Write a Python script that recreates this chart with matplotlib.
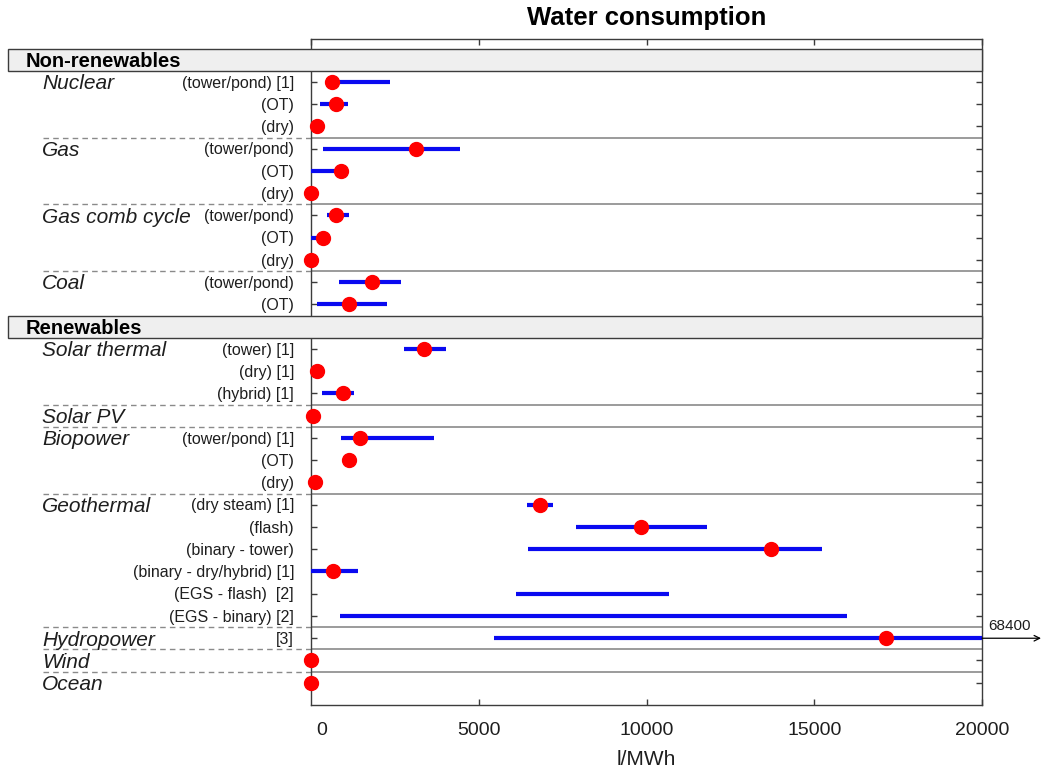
import numpy as np
import matplotlib.pyplot as plt
import matplotlib.transforms as mtransforms
from matplotlib.patches import Rectangle

plt.rcParams["font.family"] = ["Liberation Sans", "DejaVu Sans"]

# Water consumption ranges (l/MWh): low, high and median per technology
sections = ["Non-renewables", "Renewables"]
groups = [
    ("Nuclear", 3, 0), ("Gas", 3, 0), ("Gas comb cycle", 3, 0), ("Coal", 2, 0),
    ("Solar thermal", 3, 1), ("Solar PV", 1, 1), ("Biopower", 3, 1),
    ("Geothermal", 6, 1), ("Hydropower", 1, 1), ("Wind", 1, 1), ("Ocean", 1, 1),
]
sub_labels = [
    "(tower/pond) [1]", "(OT)", "(dry)",
    "(tower/pond)", "(OT)", "(dry)",
    "(tower/pond)", "(OT)", "(dry)",
    "(tower/pond)", "(OT)",
    "(tower) [1]", "(dry) [1]", "(hybrid) [1]",
    "",
    "(tower/pond) [1]", "(OT)", "(dry)",
    "(dry steam) [1]", "(flash)", "(binary - tower)",
    "(binary - dry/hybrid) [1]", "(EGS - flash)  [2]", "(EGS - binary) [2]",
    "[3]", "", "",
]
nan = np.nan
low = [470, 270, nan, 350, 0, nan, 490, 0, nan, 840, 170,
       2765, nan, 340, nan, 890, nan, nan,
       6430, 7885, 6480, 0, 6100, 870, 5440, nan, nan]
high = [2345, 1100, nan, 4440, 900, nan, 1120, 350, nan, 2685, 2265,
        4010, nan, 1290, nan, 3660, nan, nan,
        7225, 11805, 15220, 1390, 10670, 15990, 68400, nan, nan]
median = [620, 740, 190, 3120, 900, 0, 740, 350, 0, 1805, 1130,
          3360, 190, 950, 70, 1470, 1130, 110,
          6830, 9830, 13710, 650, nan, nan, 17150, 0, 0]

# row layout: one slot for each section header, one per technology
rows, header_rows, group_rows, seps = [], [], [], []
r = 0
prev_sec = None
for gi, (name, n, sec) in enumerate(groups):
    if sec != prev_sec:
        header_rows.append(r)
        r += 1
        prev_sec = sec
    elif gi > 0:
        seps.append(r - 0.5)
    group_rows.append(r)
    rows.extend(range(r, r + n))
    r += n
rows = np.array(rows)

fig = plt.figure(figsize=(10.43, 7.72), dpi=100)
ax = fig.add_axes([0.2982, 0.0868, 0.6433, 0.8627])
text_c = "#1e1e1e"
spine_c = "#3c3c3c"

for i, y in enumerate(rows):
    if not np.isnan(low[i]):
        ax.plot([low[i], high[i]], [y, y], color="#0a0af0", lw=3, solid_capstyle="butt", zorder=3)
    if not np.isnan(median[i]):
        ax.plot(median[i], y, "o", color="#ff0000", ms=10, zorder=4, clip_on=False)

ax.set_xlim(0, 20000)
ax.set_ylim(r, -0.93)

ytr = ax.get_yaxis_transform()
for y in seps:
    ax.axhline(y, color="#8a8a8a", lw=1.2, zorder=1)
    ax.plot([-0.40, 0], [y, y], transform=ytr, color="#8a8a8a", lw=1.0,
            ls=(0, (4, 3)), clip_on=False)

for hr, title in zip(header_rows, sections):
    ax.add_patch(Rectangle((-0.4516, hr - 0.5), 1.4516, 1.0, transform=ytr,
                           facecolor="#efefef", edgecolor=spine_c, lw=1.0,
                           clip_on=False, zorder=5))
    ax.text(-0.4247, hr + 0.08, title, transform=ytr, fontsize=14.5,
            fontweight="bold", va="center", ha="left", color="black", zorder=6)

for (name, n, sec), gr in zip(groups, group_rows):
    ax.text(-0.401, gr + 0.08, name, transform=ytr, fontsize=15, style="italic",
            va="center", ha="left", color=text_c)

for lab, y in zip(sub_labels, rows):
    ax.text(-0.0253, y + 0.05, lab, transform=ytr, fontsize=11.5,
            va="center", ha="right", color=text_c)

# hydropower range runs off the axis
hy = rows[sub_labels.index("[3]")]
ax.annotate("", xy=(1.088, hy), xytext=(1.0, hy), xycoords=ytr, textcoords=ytr,
            arrowprops=dict(arrowstyle="->", color="black", lw=0.9,
                            shrinkA=0, shrinkB=0), annotation_clip=False)
ax.text(1.01, hy - 0.25, f"{high[sub_labels.index('[3]')]:.0f}", transform=ytr,
        fontsize=11, ha="left", va="bottom", color=text_c)

ax.set_xticks([0, 5000, 10000, 15000, 20000])
ax.set_yticks(rows)
ax.set_yticklabels([])
ax.tick_params(axis="both", direction="in", length=4, width=1, color=spine_c,
               top=True, right=True, labelsize=14, labelcolor=text_c)
ax.tick_params(axis="x", pad=12)
ax.xaxis.get_major_ticks()[0].tick1line.set_visible(False)
lbl0 = ax.get_xticklabels()[0]
lbl0.set_transform(lbl0.get_transform() +
                   mtransforms.ScaledTranslation(11 / 100, 0, fig.dpi_scale_trans))
for s in ax.spines.values():
    s.set_color(spine_c)
    s.set_linewidth(1.0)

ax.set_xlabel("l/MWh", fontsize=15, color=text_c, labelpad=8)
ax.set_title("Water consumption", fontsize=18.5, fontweight="bold", pad=10,
             color="black")

fig.savefig("out.png", dpi=100)
